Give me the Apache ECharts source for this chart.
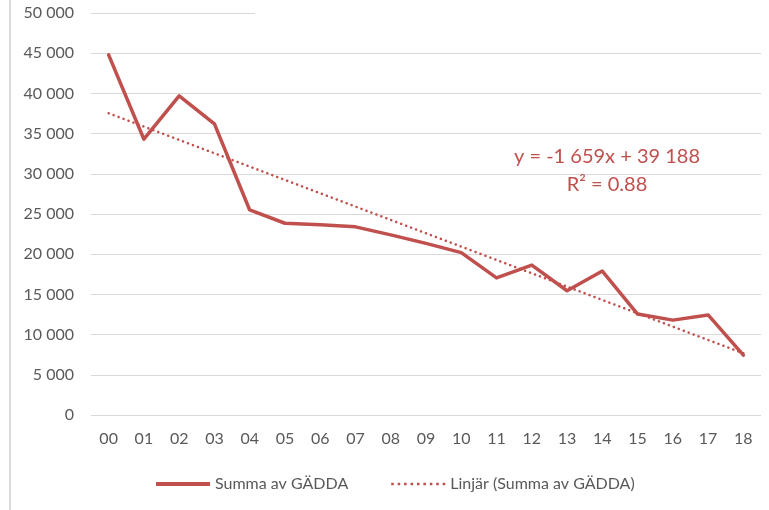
<!DOCTYPE html>
<html>
<head>
<meta charset="utf-8">
<script src="https://cdn.jsdelivr.net/npm/echarts@6/dist/echarts.min.js"></script>
<style>
html,body{margin:0;padding:0;background:#fff;}
#chart{width:769px;height:510px;}
</style>
</head>
<body>
<div id="chart"></div>
<script>
const categories = ['00','01','02','03','04','05','06','07','08','09','10','11','12','13','14','15','16','17','18'];
const gaddaValues = [44800, 34300, 39700, 36200, 25500, 23850, 23650, 23400, 22400, 21350, 20200, 17050, 18650, 15450, 17900, 12550, 11800, 12450, 7450];
// linear trendline endpoints as drawn (first and last category)
const trendValues = [37530, null, null, null, null, null, null, null, null, null, null, null, null, null, null, null, null, null, 7670];
const yTicks = [0, 5000, 10000, 15000, 20000, 25000, 30000, 35000, 40000, 45000, 50000];
const seriesName = 'Summa av GÄDDA';
const trendName = 'Linjär (Summa av GÄDDA)';
const equationLines = ['y = -1 659x + 39 188', 'R² = 0.88'];

const RED = '#C0504D';
const TXT = '#595959';
const FONT = 'Lato, "Open Sans", sans-serif';

// dotted legend icon
let dotPath = 'path://';
for (let i = 0; i < 9; i++) { const x = i * 6; dotPath += 'M' + x + ',0h2.4v2.4h-2.4z'; }

const chart = echarts.init(document.getElementById('chart'));
chart.setOption({
  animation: false,
  backgroundColor: '#fff',
  textStyle: { fontFamily: FONT },
  grid: { left: 91, right: 8, top: 13, bottom: 95, containLabel: false },
  xAxis: {
    type: 'category',
    data: categories,
    boundaryGap: true,
    axisLine: { show: false },
    axisTick: { show: false },
    axisLabel: { color: TXT, fontSize: 16, fontFamily: FONT, margin: 16 }
  },
  yAxis: {
    type: 'value',
    min: yTicks[0],
    max: yTicks[yTicks.length - 1],
    interval: yTicks[1] - yTicks[0],
    axisLine: { show: false },
    axisTick: { show: false },
    splitLine: { lineStyle: { color: '#D9D9D9', width: 1 } },
    axisLabel: {
      color: TXT, fontSize: 16, fontFamily: FONT, margin: 17,
      formatter: v => String(v).replace(/\B(?=(\d{3})+(?!\d))/g, ' ')
    }
  },
  legend: {
    top: 471,
    left: 151,
    itemGap: 43,
    itemWidth: 54,
    itemHeight: 4,
    textStyle: { color: TXT, fontSize: 16, fontFamily: FONT },
    data: [
      { name: seriesName, icon: 'rect', itemStyle: { color: RED } },
      { name: trendName, icon: dotPath, itemStyle: { color: RED } }
    ]
  },
  series: [
    {
      name: seriesName,
      type: 'line',
      data: gaddaValues,
      symbol: 'none',
      lineStyle: { color: RED, width: 3.5, join: 'round', cap: 'round' },
      itemStyle: { color: RED },
      z: 3
    },
    {
      name: trendName,
      type: 'line',
      data: trendValues,
      connectNulls: true,
      symbol: 'none',
      lineStyle: { color: RED, width: 2.5, type: [0.1, 5.2], cap: 'round' },
      itemStyle: { color: RED },
      z: 2
    }
  ],
  graphic: [
    { type: 'rect', left: 255, top: 9, shape: { width: 510, height: 8 }, style: { fill: '#fff' }, z: 100 },
    { type: 'rect', left: 9, top: 0, shape: { width: 2, height: 510 }, style: { fill: '#D9D9D9' }, z: 100 },
    { type: 'text', x: 607, y: 157, z: 100,
      style: { text: equationLines[0], fill: RED, font: '20px ' + FONT, textAlign: 'center', textVerticalAlign: 'middle' } },
    { type: 'text', x: 607, y: 185, z: 100,
      style: { text: equationLines[1], fill: RED, font: '20px ' + FONT, textAlign: 'center', textVerticalAlign: 'middle' } }
  ]
});
</script>
</body>
</html>
